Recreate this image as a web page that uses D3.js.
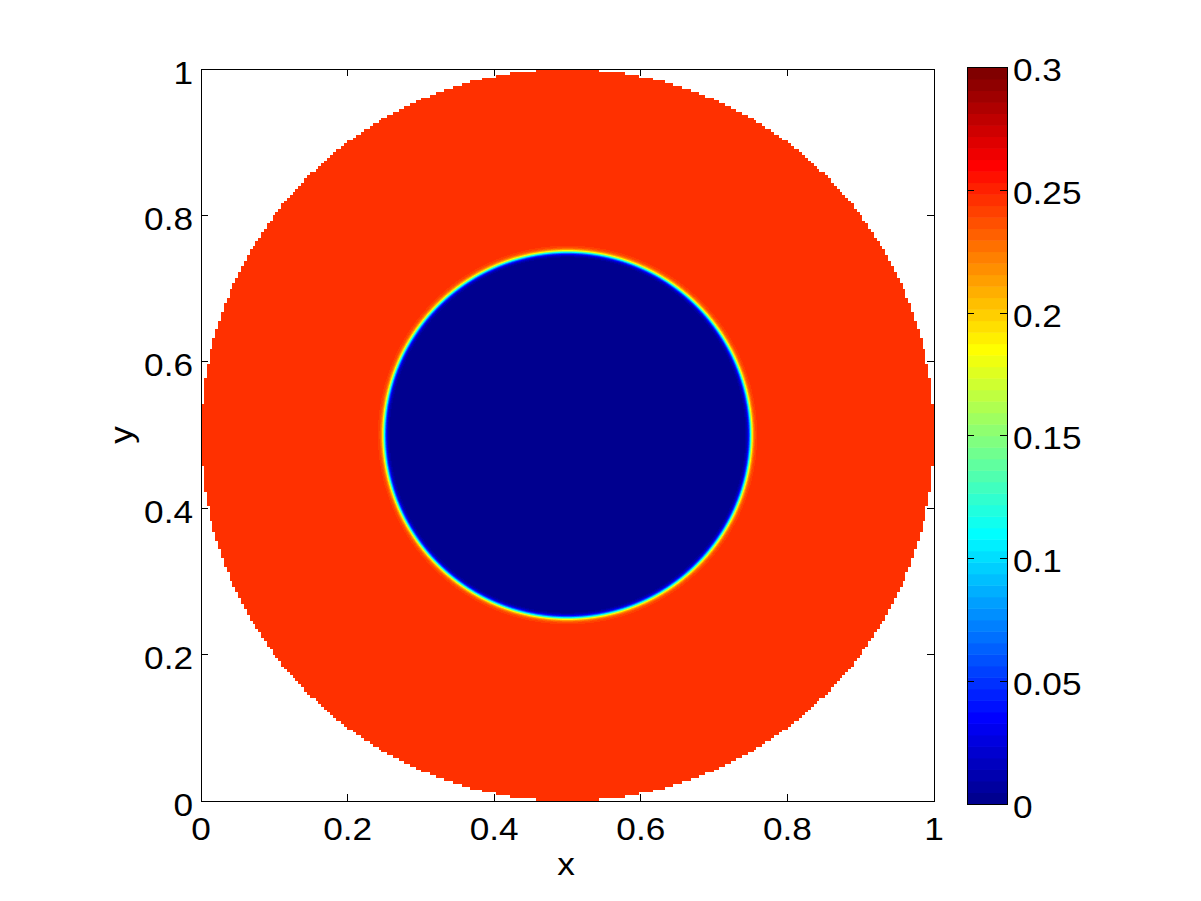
<!DOCTYPE html>
<html>
<head>
<meta charset="utf-8">
<script src="https://cdn.jsdelivr.net/npm/d3@7"></script>
<style>
  html, body { margin: 0; padding: 0; background: #fff; }
  svg { display: block; }
  text { font-family: "Liberation Sans", Arial, sans-serif; fill: #000; }
</style>
</head>
<body>
<script>
// ---- data ----
const xTicks = [0, 0.2, 0.4, 0.6, 0.8, 1];
const yTicks = [0, 0.2, 0.4, 0.6, 0.8, 1];
const cbTicks = [0, 0.05, 0.1, 0.15, 0.2, 0.25, 0.3];
const cbTickLabels = ["0", "0.05", "0.1", "0.15", "0.2", "0.25", "0.3"];
const colorRange = [0, 0.3];
const regionRadii = [0.25, 0.5];      // inner drop interface, outer domain edge
const regionValues = [0, 0.246];      // value inside drop, value in ring
const regionCenter = [0.5, 0.5];
const interfaceWidth = [0.0037];
const gridCells = [256];
const xLabel = "x", yLabel = "y";

// ---- jet(64) colormap ----
function jet(n) {
  const m = Math.ceil(n / 4);
  const u = [];
  for (let i = 1; i <= m; i++) u.push(i / m);
  for (let i = 1; i < m; i++) u.push(1);
  for (let i = m; i >= 1; i--) u.push(i / m);
  const off = Math.ceil(m / 2) - (n % 4 === 1 ? 1 : 0);
  const cm = Array.from({length: n}, () => [0, 0, 0]);
  u.forEach((v, k) => {
    const g = off + k + 1, r = g + m, b = g - m;
    if (g >= 1 && g <= n) cm[g - 1][1] = v;
    if (r >= 1 && r <= n) cm[r - 1][0] = v;
    if (b >= 1 && b <= n) cm[b - 1][2] = v;
  });
  return cm.map(c => c.map(v => Math.round(v * 255)));
}
const cmap = jet(64);

const W = 1201, H = 901;
const svg = d3.select("body").append("svg").attr("width", W).attr("height", H);

const x = d3.scaleLinear().domain([0, 1]).range([201, 934]);
const y = d3.scaleLinear().domain([0, 1]).range([801, 69]);
const cIdx = d3.scaleQuantize().domain(colorRange).range(d3.range(64));

// ---- field image ----
const pw = Math.round(x(1) - x(0)), ph = Math.round(y(0) - y(1));
const canvas = document.createElement("canvas");
canvas.width = pw; canvas.height = ph;
const ctx = canvas.getContext("2d");
const img = ctx.createImageData(pw, ph);
const N = gridCells[0];
for (let j = 0; j < ph; j++) {
  const yv = y.invert(y(1) + j + 0.5);
  const yc = (Math.min(N - 1, Math.floor(yv * N)) + 0.5) / N;
  for (let i = 0; i < pw; i++) {
    const xv = x.invert(x(0) + i + 0.5);
    const xc = (Math.min(N - 1, Math.floor(xv * N)) + 0.5) / N;
    const rc = Math.hypot(xc - regionCenter[0], yc - regionCenter[1]);
    const p = (j * pw + i) * 4;
    if (rc > regionRadii[1]) { img.data[p + 3] = 0; continue; }
    const r = Math.hypot(xv - regionCenter[0], yv - regionCenter[1]);
    const t = (1 + Math.tanh((r - regionRadii[0]) / interfaceWidth[0])) / 2;
    const v = regionValues[0] + (regionValues[1] - regionValues[0]) * t;
    const c = cmap[cIdx(Math.min(colorRange[1] - 1e-9, Math.max(0, v)))];
    img.data[p] = c[0]; img.data[p + 1] = c[1]; img.data[p + 2] = c[2]; img.data[p + 3] = 255;
  }
}
ctx.putImageData(img, 0, 0);
svg.append("image")
  .attr("x", x(0)).attr("y", y(1)).attr("width", pw).attr("height", ph)
  .attr("preserveAspectRatio", "none")
  .attr("href", canvas.toDataURL());

// ---- axes box & ticks ----
const g = svg.append("g").attr("shape-rendering", "crispEdges");
g.append("rect").attr("x", x(0)).attr("y", y(1)).attr("width", x(1) - x(0)).attr("height", y(0) - y(1))
  .attr("fill", "none").attr("stroke", "#000").attr("stroke-width", 1);
const tl = 7;
xTicks.forEach(t => {
  g.append("line").attr("x1", x(t)).attr("x2", x(t)).attr("y1", y(0)).attr("y2", y(0) - tl).attr("stroke", "#000");
  g.append("line").attr("x1", x(t)).attr("x2", x(t)).attr("y1", y(1)).attr("y2", y(1) + tl).attr("stroke", "#000");
});
yTicks.forEach(t => {
  g.append("line").attr("x1", x(0)).attr("x2", x(0) + tl).attr("y1", y(t)).attr("y2", y(t)).attr("stroke", "#000");
  g.append("line").attr("x1", x(1)).attr("x2", x(1) - tl).attr("y1", y(t)).attr("y2", y(t)).attr("stroke", "#000");
});
const fs = 32, sx = 1.1;
function label(px, py, txt, anchor, dy, rot) {
  svg.append("text")
    .attr("transform", `translate(${px},${py})` + (rot ? ` rotate(${rot})` : "") + ` scale(${sx},1)`)
    .attr("text-anchor", anchor).attr("dy", dy).attr("font-size", fs).text(txt);
}
xTicks.forEach(d => label(x(d), 840, d3.format("~g")(d), "middle", 0));
yTicks.forEach(d => label(193, y(d) + 3, d3.format("~g")(d), "end", "0.36em"));
label(566, 875, xLabel, "middle", 0);
label(132, 435, yLabel, "middle", 0, -90);

// ---- colorbar ----
const cb = { x0: 967, x1: 1007 };
const cy = d3.scaleLinear().domain(colorRange).range([804, 67.5]);
const bandVals = d3.range(64).map(i => colorRange[0] + (colorRange[1] - colorRange[0]) * i / 64);
const step = (colorRange[1] - colorRange[0]) / 64;
svg.append("g").selectAll("rect").data(bandVals).enter().append("rect")
  .attr("x", cb.x0).attr("width", cb.x1 - cb.x0)
  .attr("y", d => cy(d + step)).attr("height", d => cy(d) - cy(d + step) + 0.5)
  .attr("fill", (d, i) => `rgb(${cmap[i].join(",")})`);
const cg = svg.append("g").attr("shape-rendering", "crispEdges");
cg.append("rect").attr("x", cb.x0).attr("y", cy(colorRange[1])).attr("width", cb.x1 - cb.x0)
  .attr("height", cy(colorRange[0]) - cy(colorRange[1])).attr("fill", "none").attr("stroke", "#000");
cbTicks.forEach(t => {
  cg.append("line").attr("x1", cb.x0).attr("x2", cb.x0 + tl).attr("y1", cy(t)).attr("y2", cy(t)).attr("stroke", "#000");
  cg.append("line").attr("x1", cb.x1).attr("x2", cb.x1 - tl).attr("y1", cy(t)).attr("y2", cy(t)).attr("stroke", "#000");
});
cbTicks.forEach((d, i) => label(1013, cy(d) + 2, cbTickLabels[i], "start", "0.36em"));
</script>
</body>
</html>
